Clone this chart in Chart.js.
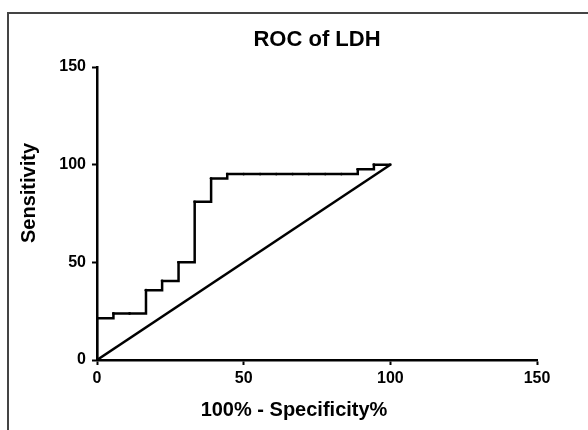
<!DOCTYPE html>
<html>
<head>
<meta charset="utf-8">
<script src="https://cdn.jsdelivr.net/npm/chart.js@4"></script>
<style>
    body { margin: 0; background: #fff; }
    #wrap { position: relative; width: 588px; height: 430px; overflow: hidden; }
    #frame { position: absolute; left: 7px; top: 12px; width: 700px; height: 500px;
             border-left: 2px solid #444; border-top: 2px solid #444; }
    #roc { position: absolute; left: 0; top: 0; }
</style>
</head>
<body>
<div id="wrap">
    <div id="frame"></div>
    <canvas id="roc" width="588" height="430"></canvas>
</div>
<script>
// ROC points (100% - specificity, sensitivity)
const fpr = [0, 0, 5.6, 11.1, 16.7, 22.2, 27.8, 33.3, 38.9, 44.4, 50, 55.6, 61.1, 66.7, 72.2, 77.8, 83.3, 88.9, 94.4, 100];
const sensitivity = [0, 21.4, 23.8, 23.8, 35.7, 40.5, 50, 81, 92.9, 95.2, 95.2, 95.2, 95.2, 95.2, 95.2, 95.2, 95.2, 97.6, 100, 100];

// chance line
const refX = [0, 100];
const refY = [0, 100];

const axisTicks = [0, 50, 100, 150];

const fontFamily = "'Liberation Sans', Arial, Helvetica, sans-serif";

function toPoints(xs, ys) {
    return xs.map((x, i) => ({ x: x, y: ys[i] }));
}

// axis titles sit a bit off-centre in the original, so draw them by hand
const axisTitles = {
    id: 'axisTitles',
    afterDraw(chart) {
        const c = chart.ctx;
        c.save();
        c.fillStyle = '#000';
        c.font = 'bold 20px ' + fontFamily;
        c.textAlign = 'center';
        c.textBaseline = 'middle';
        c.fillText('100% - Specificity%', 294, 410);
        c.translate(29, 193);
        c.rotate(-Math.PI / 2);
        c.fillText('Sensitivity', 0, 0);
        c.restore();
    }
};

document.addEventListener("DOMContentLoaded", function () {
    const ctx = document.getElementById('roc').getContext('2d');
    new Chart(ctx, {
        type: 'scatter',
        data: {
            datasets: [{
                label: 'LDH',
                data: toPoints(fpr, sensitivity),
                showLine: true,
                stepped: true,
                borderColor: '#000',
                backgroundColor: '#000',
                borderWidth: 2.5,
                pointRadius: 1.4,
                pointBorderWidth: 0
            }, {
                label: 'Reference',
                data: toPoints(refX, refY),
                showLine: true,
                borderColor: '#000',
                borderWidth: 2.5,
                pointRadius: 0
            }]
        },
        plugins: [axisTitles],
        options: {
            responsive: false,
            animation: false,
            layout: { padding: { left: 0, right: 51, top: 0, bottom: 0 } },
            plugins: {
                legend: { display: false },
                tooltip: { enabled: false },
                title: {
                    display: true,
                    text: 'ROC of LDH',
                    fullSize: false,
                    color: '#000',
                    font: { family: fontFamily, size: 22, weight: 'bold' },
                    padding: { top: 27, bottom: 13.6 }
                }
            },
            scales: {
                x: {
                    type: 'linear',
                    min: 0,
                    max: 150,
                    afterBuildTicks: scale => { scale.ticks = axisTicks.map(v => ({ value: v })); },
                    afterFit: scale => { scale.height = 70; },
                    grid: { drawOnChartArea: false, drawTicks: true, tickLength: 5, tickWidth: 2, tickColor: '#000' },
                    border: { color: '#000', width: 2.5 },
                    ticks: { color: '#000', padding: 4, maxRotation: 0, font: { family: fontFamily, size: 16, weight: 'bold' } }
                },
                y: {
                    type: 'linear',
                    min: 0,
                    max: 150,
                    afterBuildTicks: scale => { scale.ticks = axisTicks.map(v => ({ value: v })); },
                    afterFit: scale => { scale.width = 97; },
                    grid: { drawOnChartArea: false, drawTicks: true, tickLength: 5, tickWidth: 2, tickColor: '#000' },
                    border: { color: '#000', width: 2.5 },
                    ticks: { color: '#000', padding: 6, font: { family: fontFamily, size: 16, weight: 'bold' } }
                }
            }
        }
    });
});
</script>
</body>
</html>
